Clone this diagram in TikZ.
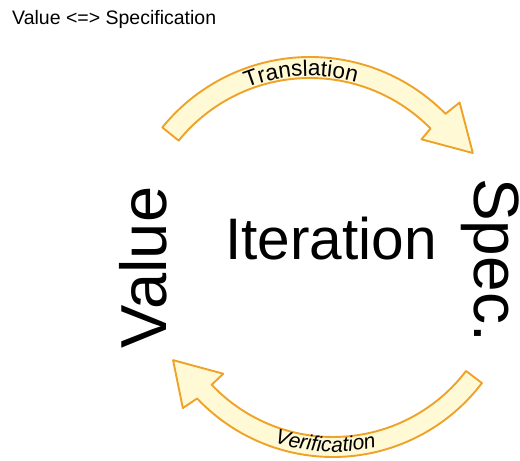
\documentclass[tikz,border=0pt]{standalone}
\usepackage{fontspec}
\setmainfont{Liberation Sans}
\usetikzlibrary{decorations.text}

\definecolor{bandfill}{HTML}{FFF9D6}
\definecolor{bandline}{HTML}{EFA228}

\newcommand{\pxsize}[1]{\fontsize{#1}{#1}\selectfont}

\begin{document}
\begin{tikzpicture}[x=1pt, y=1pt,
    every node/.style={inner sep=0pt},
    band/.style={draw=bandline, fill=bandfill, line width=1.9pt, line join=round},
    bandtext/.style={decorate, decoration={text along path, text align=center, text={#1}}}]
  \useasboundingbox (0,0) rectangle (520,461);

  \node[anchor=base west] (title) at (12,436) {\pxsize{19.5}Value <=> Specification};
  \node[anchor=base] (iter) at (331,201) {\pxsize{58.6}Iteration};
  \node[anchor=base, rotate=90] (value) at (166,193.5) {\pxsize{65}Value};
  \node[anchor=base, rotate=-90] (spec) at (474,201) {\pxsize{64}Spec.};

  % upper arrow, value -> spec
  \coordinate (topc) at (310,214);
  \begin{scope}[shift={(topc)}]
    \draw[band] (141:190) arc[start angle=141, end angle=44.5, radius=190]
      -- (44:208) -- (30:188) -- (44:155) -- (44.5:169)
      arc[start angle=44.5, end angle=141, radius=169] -- cycle;
    \path[bandtext={|\pxsize{22.5}|Translation}]
      (128:171) arc[start angle=128, end angle=58, radius=171];
  \end{scope}

  % lower arrow, spec -> value
  \coordinate (botc) at (333,191);
  \begin{scope}[shift={(botc)}]
    \draw[band] (322.8:187) arc[start angle=322.8, end angle=223.4, radius=187]
      -- (222.6:204) -- (209.4:183.6) -- (223.4:151) -- (223.4:167)
      arc[start angle=223.4, end angle=322.8, radius=167] -- cycle;
    \path[bandtext={|\pxsize{21}\itshape|Verification}]
      (249:182) arc[start angle=249, end angle=286, radius=182];
  \end{scope}
\end{tikzpicture}
\end{document}
